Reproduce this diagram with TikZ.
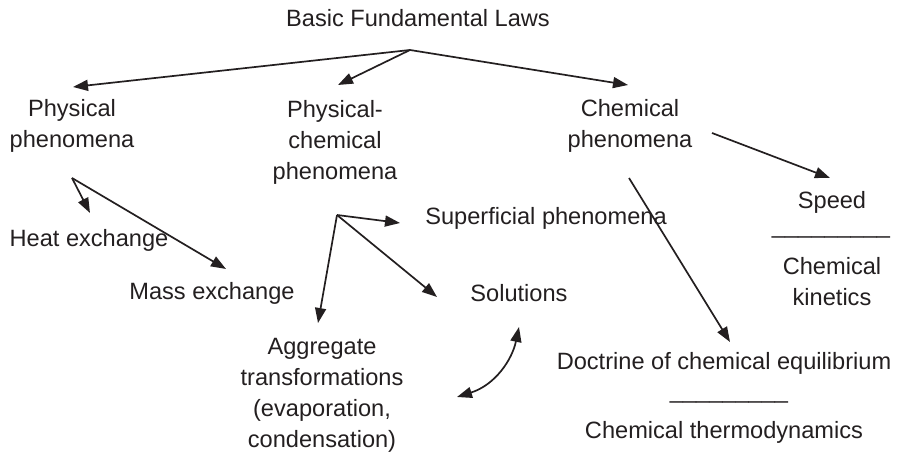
\documentclass[tikz,border=0pt]{standalone}
\usepackage{fontspec}
\setmainfont{Liberation Sans}
\usetikzlibrary{arrows.meta}
\definecolor{ink}{HTML}{231F20}
\begin{document}
\begin{tikzpicture}[x=0.5pt,y=-0.5pt,
  lbl/.style={text=ink,align=center,inner sep=0pt,font=\fontsize{11.8}{15.5}\selectfont},
  arr/.style={draw=ink,line width=0.85pt,-{Triangle[length=7.5pt,width=5.5pt]}},
  dbl/.style={draw=ink,line width=0.85pt,{Triangle[length=7.5pt,width=5.5pt]}-{Triangle[length=7.5pt,width=5.5pt]}}]
\useasboundingbox (0,0) rectangle (910,459);
\node[lbl] (basic) at (418,18) {Basic Fundamental Laws};
\node[lbl] (phys) at (72,126) {Physical\\phenomena};
\node[lbl] (pc) at (335,142) {Physical-\\chemical\\phenomena};
\node[lbl] (chem) at (630,126) {Chemical\\phenomena};
\node[lbl] (speed) at (832,202) {Speed};
\node[lbl] (bar1) at (831,236) {\_\_\_\_\_\_\_\_\_};
\node[lbl] (kin) at (832,282) {Chemical\\kinetics};
\node[lbl] (sup) at (546,218) {Superficial phenomena};
\node[lbl] (heat) at (89,240) {Heat exchange};
\node[lbl] (mass) at (212,293) {Mass exchange};
\node[lbl] (sol) at (519,293) {Solutions};
\node[lbl] (agg) at (322,395) {Aggregate\\transformations\\(evaporation,\\condensation)};
\node[lbl] (doc) at (724,363) {Doctrine of chemical equilibrium};
\node[lbl] (bar2) at (729,401) {\_\_\_\_\_\_\_\_\_};
\node[lbl] (thermo) at (724,432) {Chemical thermodynamics};

\coordinate (hub) at (410,50);
\coordinate (physTip) at (73,87);
\coordinate (pcTip) at (338,85);
\coordinate (chemTip) at (628,85);
\draw[arr] (hub) -- (physTip);
\draw[arr] (hub) -- (pcTip);
\draw[arr] (hub) -- (chemTip);

\coordinate (physHub) at (72,178);
\coordinate (heatTip) at (90,213);
\coordinate (massTip) at (226,269);
\draw[arr] (physHub) -- (heatTip);
\draw[arr] (physHub) -- (massTip);

\coordinate (pcHub) at (337,215);
\coordinate (supTip) at (400,223);
\coordinate (aggTip) at (318,323);
\coordinate (solTip) at (437,297);
\draw[arr] (pcHub) -- (supTip);
\draw[arr] (pcHub) -- (aggTip);
\draw[arr] (pcHub) -- (solTip);

\coordinate (speedStart) at (712,133);
\coordinate (speedTip) at (830,178);
\draw[arr] (speedStart) -- (speedTip);
\coordinate (docStart) at (629,178);
\coordinate (docTip) at (730,342);
\draw[arr] (docStart) -- (docTip);

\coordinate (solEnd) at (519,327);
\coordinate (aggEnd) at (457,397);
\draw[dbl] (solEnd) .. controls (512,360) and (495,385) .. (aggEnd);
\end{tikzpicture}
\end{document}
